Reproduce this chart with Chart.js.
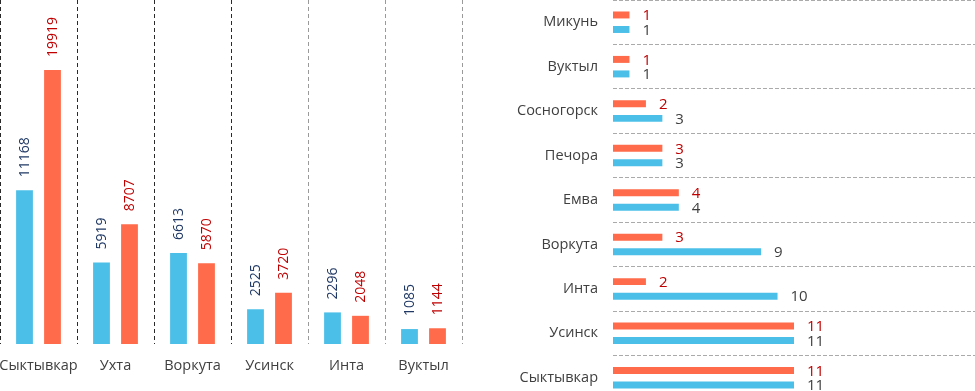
<!DOCTYPE html>
<html><head><meta charset="utf-8">
<script src="https://cdn.jsdelivr.net/npm/chart.js@4/dist/chart.umd.min.js"></script>
<style>
html,body{margin:0;padding:0;background:#fff;overflow:hidden;width:975px;height:391px;}
#left{position:absolute;left:0;top:0;width:480px;height:391px;}
#right{position:absolute;left:480px;top:0;width:495px;height:400px;}
</style></head><body>
<div id="left"><canvas id="c1"></canvas></div>
<div id="right"><canvas id="c2"></canvas></div>
<script>
const leftCities = ['Сыктывкар','Ухта','Воркута','Усинск','Инта','Вуктыл'];
const leftBlue = [11168,5919,6613,2525,2296,1085];
const leftOrange = [19919,8707,5870,3720,2048,1144];
const rightCities = ['Микунь','Вуктыл','Сосногорск','Печора','Емва','Воркута','Инта','Усинск','Сыктывкар'];
const rightOrange = [1,1,2,3,4,3,2,11,11];
const rightBlue = [1,1,3,3,4,9,10,11,11];

const BLUE = '#4BBFE8', ORANGE = '#FF6B4B';
const FONT = '"Open Sans", "Noto Sans", sans-serif';

const leftLabels = {
  id: 'leftLabels',
  afterDatasetsDraw(chart) {
    const ctx = chart.ctx;
    const colors = ['#1F3864', '#C00000'];
    chart.data.datasets.forEach((ds, di) => {
      const meta = chart.getDatasetMeta(di);
      meta.data.forEach((bar, i) => {
        ctx.save();
        ctx.translate(bar.x + 1, bar.y - 13);
        ctx.rotate(-Math.PI / 2);
        ctx.font = '14px ' + FONT;
        ctx.fillStyle = colors[di];
        ctx.textAlign = 'left';
        ctx.textBaseline = 'middle';
        ctx.fillText(String(ds.data[i]), 0, 0);
        ctx.restore();
      });
    });
  }
};

const rightLabels = {
  id: 'rightLabels',
  afterDatasetsDraw(chart) {
    const ctx = chart.ctx;
    const colors = ['#C00000', '#404040'];
    chart.data.datasets.forEach((ds, di) => {
      const meta = chart.getDatasetMeta(di);
      meta.data.forEach((bar, i) => {
        ctx.save();
        ctx.font = '15px ' + FONT;
        ctx.fillStyle = colors[di];
        ctx.textAlign = 'left';
        ctx.textBaseline = 'middle';
        ctx.fillText(String(ds.data[i]), bar.x + 13, bar.y + 1);
        ctx.restore();
      });
    });
  }
};

new Chart(document.getElementById('c1'), {
  type: 'bar',
  data: {
    labels: leftCities,
    datasets: [
      { data: leftBlue, backgroundColor: BLUE, categoryPercentage: 0.727, barPercentage: 0.6 },
      { data: leftOrange, backgroundColor: ORANGE, categoryPercentage: 0.727, barPercentage: 0.6 }
    ]
  },
  options: {
    responsive: true, maintainAspectRatio: false, animation: false,
    layout: { padding: { left: 0, right: 18, top: 0, bottom: 0 } },
    plugins: { legend: { display: false }, tooltip: { enabled: false } },
    scales: {
      x: {
        grid: {
          offset: true, drawTicks: false, lineWidth: 1,
          color: (c) => (c.index <= 3 ? '#2a2a2a' : '#9a9a9a')
        },
        border: { display: false, dash: [4, 3] },
        ticks: { padding: 13, color: '#404040', font: { family: FONT, size: 14.5 },
                 maxRotation: 0, minRotation: 0, autoSkip: false },
        afterFit(s) { s.paddingLeft = 0; s.paddingRight = 0; s.height = 47; }
      },
      y: { display: false, min: 0, max: 25000 }
    }
  },
  plugins: [leftLabels]
});

new Chart(document.getElementById('c2'), {
  type: 'bar',
  data: {
    labels: rightCities,
    datasets: [
      { data: rightOrange, backgroundColor: ORANGE, categoryPercentage: 0.653, barPercentage: 0.48 },
      { data: rightBlue, backgroundColor: BLUE, categoryPercentage: 0.653, barPercentage: 0.48 }
    ]
  },
  options: {
    indexAxis: 'y',
    responsive: true, maintainAspectRatio: false, animation: false,
    layout: { padding: 0 },
    plugins: { legend: { display: false }, tooltip: { enabled: false } },
    scales: {
      x: { display: false, min: 0, max: 22 },
      y: {
        grid: { offset: true, drawTicks: false, color: '#AAAAAA', lineWidth: 1 },
        border: { display: false, dash: [4, 2] },
        ticks: { padding: 15, color: '#404040', font: { family: FONT, size: 14.5 }, autoSkip: false },
        afterFit(s) { s.width = 133; s.paddingTop = 0; s.paddingBottom = 0; }
      }
    }
  },
  plugins: [rightLabels]
});
</script>
</body></html>
